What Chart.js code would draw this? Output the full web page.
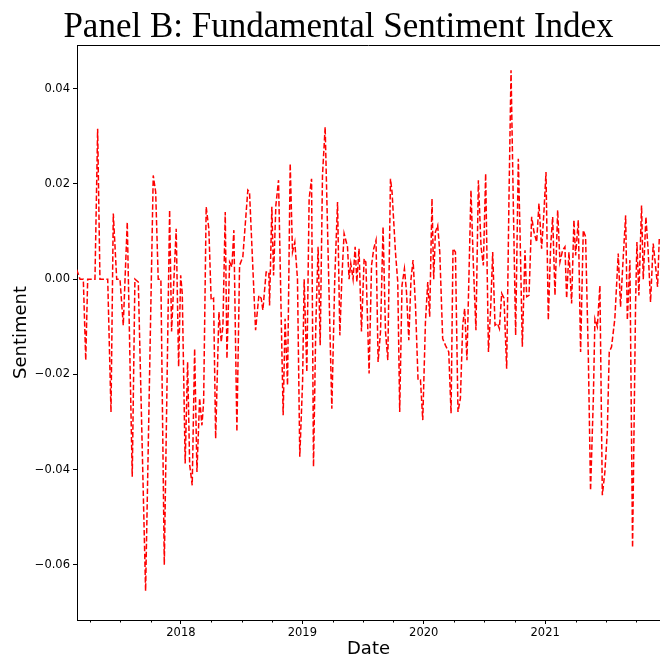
<!DOCTYPE html>
<html>
<head>
<meta charset="utf-8">
<script src="https://cdn.jsdelivr.net/npm/chart.js@4.4.1/dist/chart.umd.min.js"></script>
<style>
  html, body { margin: 0; padding: 0; background: #ffffff; }
  #c { display: block; }
</style>
</head>
<body>
<canvas id="c" width="660" height="660"></canvas>
<script>
// ---- data (decimal years, sentiment values) ----
const dates = [
  2017.142, 2017.169, 2017.196, 2017.216, 2017.232, 2017.292, 2017.314, 2017.333, 2017.397, 2017.424,
  2017.443, 2017.471, 2017.498, 2017.525, 2017.558, 2017.599, 2017.621, 2017.649, 2017.709, 2017.772,
  2017.792, 2017.813, 2017.835, 2017.863, 2017.907, 2017.923, 2017.961, 2017.981, 2017.998, 2018.011,
  2018.035, 2018.055, 2018.072, 2018.093, 2018.113, 2018.132, 2018.154, 2018.173, 2018.187, 2018.208,
  2018.230, 2018.249, 2018.269, 2018.286, 2018.313, 2018.332, 2018.346, 2018.365, 2018.379, 2018.401,
  2018.420, 2018.436, 2018.461, 2018.483, 2018.510, 2018.551, 2018.565, 2018.615, 2018.642, 2018.661,
  2018.675, 2018.702, 2018.724, 2018.730, 2018.749, 2018.763, 2018.782, 2018.804, 2018.823, 2018.842,
  2018.858, 2018.878, 2018.900, 2018.919, 2018.938, 2018.960, 2018.979, 2019.002, 2019.015, 2019.037,
  2019.056, 2019.076, 2019.092, 2019.111, 2019.130, 2019.147, 2019.166, 2019.188, 2019.221, 2019.243,
  2019.267, 2019.290, 2019.309, 2019.325, 2019.344, 2019.372, 2019.385, 2019.399, 2019.418, 2019.435,
  2019.449, 2019.467, 2019.487, 2019.509, 2019.523, 2019.550, 2019.570, 2019.588, 2019.607, 2019.624,
  2019.644, 2019.665, 2019.685, 2019.704, 2019.726, 2019.739, 2019.767, 2019.786, 2019.802, 2019.821,
  2019.841, 2019.858, 2019.877, 2019.895, 2019.912, 2019.932, 2019.953, 2019.973, 2019.992, 2020.014,
  2020.033, 2020.049, 2020.068, 2020.082, 2020.096, 2020.115, 2020.132, 2020.156, 2020.179, 2020.206,
  2020.225, 2020.241, 2020.261, 2020.282, 2020.302, 2020.321, 2020.337, 2020.356, 2020.389, 2020.409,
  2020.430, 2020.450, 2020.472, 2020.491, 2020.510, 2020.533, 2020.551, 2020.568, 2020.587, 2020.607,
  2020.623, 2020.642, 2020.661, 2020.683, 2020.702, 2020.719, 2020.738, 2020.757, 2020.779, 2020.793,
  2020.812, 2020.834, 2020.848, 2020.867, 2020.889, 2020.908, 2020.930, 2020.949, 2020.971, 2020.990,
  2021.007, 2021.026, 2021.045, 2021.062, 2021.081, 2021.103, 2021.122, 2021.144, 2021.163, 2021.177,
  2021.196, 2021.218, 2021.237, 2021.251, 2021.273, 2021.292, 2021.314, 2021.333, 2021.356, 2021.374,
  2021.397, 2021.410, 2021.430, 2021.451, 2021.471, 2021.492, 2021.512, 2021.528, 2021.547, 2021.574,
  2021.602, 2021.621, 2021.644, 2021.663, 2021.677, 2021.698, 2021.720, 2021.745, 2021.756, 2021.772,
  2021.794, 2021.808, 2021.830, 2021.849, 2021.868, 2021.890, 2021.909, 2021.926, 2021.940
];
const sentiment = [
  0.0020, 0.0000, 0.0000, -0.0170, 0.0000, 0.0000, 0.0316, 0.0000, 0.0000, -0.0279,
  0.0138, 0.0000, 0.0000, -0.0097, 0.0120, -0.0415, 0.0000, -0.0006, -0.0655, 0.0218,
  0.0183, 0.0000, 0.0000, -0.0600, 0.0145, -0.0110, 0.0106, -0.0184, 0.0008, -0.0030,
  -0.0387, -0.0174, -0.0390, -0.0433, -0.0146, -0.0405, -0.0250, -0.0307, -0.0258, 0.0152,
  0.0106, -0.0044, -0.0040, -0.0335, -0.0069, -0.0132, -0.0097, 0.0141, -0.0167, 0.0036,
  0.0026, 0.0103, -0.0320, 0.0029, 0.0047, 0.0187, 0.0183, -0.0107, -0.0034, -0.0040,
  -0.0065, 0.0015, 0.0015, -0.0055, 0.0152, 0.0008, 0.0155, 0.0208, -0.0040, -0.0286,
  -0.0083, -0.0223, 0.0243, 0.0057, 0.0078, 0.0000, -0.0373, -0.0216, 0.0000, -0.0195,
  0.0169, 0.0211, -0.0394, -0.0097, 0.0068, -0.0139, 0.0218, 0.0320, -0.0040, -0.0272,
  0.0000, 0.0162, -0.0118, 0.0000, 0.0096, 0.0068, 0.0000, 0.0033, 0.0000, 0.0068,
  -0.0006, 0.0064, -0.0110, 0.0043, 0.0036, -0.0198, 0.0029, 0.0064, 0.0082, -0.0174,
  -0.0110, 0.0110, -0.0110, -0.0170, 0.0211, 0.0183, 0.0057, -0.0006, -0.0279, -0.0013,
  0.0022, -0.0027, -0.0128, 0.0000, 0.0040, -0.0055, -0.0212, -0.0212, -0.0296, -0.0090,
  -0.0006, -0.0079, 0.0169, 0.0000, 0.0099, 0.0113, 0.0057, -0.0125, -0.0139, -0.0153,
  -0.0282, 0.0064, 0.0057, -0.0279, -0.0250, -0.0097, -0.0062, -0.0170, 0.0187, 0.0029,
  -0.0107, 0.0208, 0.0068, 0.0029, 0.0222, -0.0153, -0.0062, 0.0057, -0.0097, -0.0093,
  -0.0104, -0.0030, -0.0040, -0.0188, 0.0169, 0.0439, 0.0155, -0.0118, 0.0253, 0.0099,
  -0.0142, 0.0061, -0.0037, -0.0034, 0.0131, 0.0099, 0.0078, 0.0159, 0.0064, 0.0141,
  0.0225, -0.0086, 0.0068, 0.0131, -0.0034, 0.0145, 0.0036, 0.0061, 0.0068, -0.0040,
  0.0057, -0.0051, 0.0124, 0.0050, 0.0124, -0.0153, 0.0103, 0.0089, -0.0167, -0.0444,
  -0.0250, -0.0083, -0.0100, -0.0013, -0.0454, -0.0405, -0.0320, -0.0153, -0.0142, -0.0083,
  0.0054, -0.0058, 0.0050, 0.0134, -0.0086, 0.0040, -0.0564, -0.0048, 0.0078, -0.0034,
  0.0155, 0.0000, 0.0131, 0.0057, -0.0048, 0.0075, 0.0029, -0.0016, 0.0085
];
const yearTicks = [2018, 2019, 2020, 2021];
const quarterTicks = [2017.25, 2017.5, 2017.75, 2018.25, 2018.5, 2018.75, 2019.25, 2019.5, 2019.75,
                      2020.25, 2020.5, 2020.75, 2021.25, 2021.5, 2021.75];
const sentimentTicks = [-0.06, -0.04, -0.02, 0.00, 0.02, 0.04];
const titleText = 'Panel B: Fundamental Sentiment Index';
const xLabel = 'Date';
const yLabel = 'Sentiment';

const points = dates.map((d, i) => ({ x: d, y: sentiment[i] }));

const framePlugin = {
  id: 'frame',
  afterDraw(chart) {
    const ctx = chart.ctx;
    const a = chart.chartArea;
    ctx.save();
    // top spine
    ctx.strokeStyle = '#000000';
    ctx.lineWidth = 1;
    ctx.beginPath();
    ctx.moveTo(a.left, a.top + 0.5);
    ctx.lineTo(a.right, a.top + 0.5);
    ctx.stroke();
    // minor ticks (quarters)
    const xs = chart.scales.x;
    ctx.beginPath();
    quarterTicks.forEach(q => {
      const px = Math.round(xs.getPixelForValue(q)) + 0.5;
      ctx.moveTo(px, a.bottom);
      ctx.lineTo(px, a.bottom + 2.5);
    });
    ctx.stroke();
    // title
    ctx.fillStyle = '#000000';
    ctx.font = "35px 'Liberation Serif', serif";
    ctx.textAlign = 'center';
    ctx.textBaseline = 'alphabetic';
    ctx.fillText(titleText, 338.5, 37);
    ctx.restore();
  }
};

const tickFont = { family: "'DejaVu Sans', sans-serif", size: 11.5 };
const labelFont = { family: "'DejaVu Sans', sans-serif", size: 18 };

new Chart(document.getElementById('c'), {
  type: 'line',
  data: {
    datasets: [{
      data: points,
      borderColor: '#ff0000',
      borderWidth: 1.5,
      borderDash: [5.5, 2.4],
      pointRadius: 0,
      tension: 0,
      fill: false
    }]
  },
  options: {
    responsive: false,
    animation: false,
    layout: { padding: { top: 45, left: 0, right: 0, bottom: 0 } },
    plugins: { legend: { display: false }, tooltip: { enabled: false }, title: { display: false } },
    scales: {
      x: {
        type: 'linear',
        min: 2017.144,
        max: 2021.946,
        afterFit(s) { s.height = 40; },
        afterBuildTicks(s) { s.ticks = yearTicks.map(v => ({ value: v })); },
        grid: { drawOnChartArea: false, drawTicks: true, tickLength: 4, tickColor: '#000000', tickWidth: 1 },
        border: { display: true, color: '#000000', width: 1 },
        ticks: {
          color: '#000000', font: tickFont, padding: 2, maxRotation: 0, autoSkip: false,
          callback: v => String(Math.round(v))
        },
        title: { display: true, text: xLabel, color: '#000000', font: labelFont, padding: { top: 0, bottom: 0 } }
      },
      y: {
        type: 'linear',
        min: -0.0716,
        max: 0.0492,
        afterFit(s) { s.width = 77; },
        afterBuildTicks(s) { s.ticks = sentimentTicks.map(v => ({ value: v })); },
        grid: { drawOnChartArea: false, drawTicks: true, tickLength: 4, tickColor: '#000000', tickWidth: 1 },
        border: { display: true, color: '#000000', width: 1 },
        ticks: {
          color: '#000000', font: tickFont, padding: 3, autoSkip: false,
          callback: v => (Math.abs(v) < 1e-9 ? '0.00' : (v < 0 ? '\u2212' + Math.abs(v).toFixed(2) : v.toFixed(2)))
        },
        title: { display: true, text: yLabel, color: '#000000', font: labelFont, padding: { top: 11, bottom: 0 } }
      }
    }
  },
  plugins: [framePlugin]
});
</script>
</body>
</html>
